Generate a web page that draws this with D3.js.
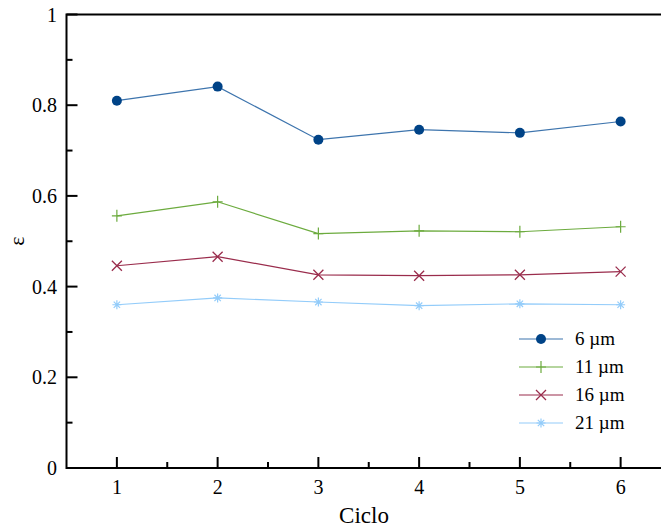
<!DOCTYPE html>
<head>
    <script src="https://d3js.org/d3.v7.min.js"></script>
    <style>
        body { margin: 0; background: #fff; }
        text { font-family: "Liberation Serif", "Times New Roman", serif; fill: #000; }
    </style>
</head>
<body>
    <svg></svg>
</body>

<script>
    // Data
    var ciclos = [1, 2, 3, 4, 5, 6];
    var seriesNames = ["6 \u00b5m", "11 \u00b5m", "16 \u00b5m", "21 \u00b5m"];
    var s6 = [0.810, 0.841, 0.724, 0.746, 0.739, 0.764];
    var s11 = [0.556, 0.587, 0.517, 0.523, 0.521, 0.532];
    var s16 = [0.446, 0.466, 0.426, 0.424, 0.426, 0.433];
    var s21 = [0.360, 0.375, 0.366, 0.358, 0.362, 0.360];
    var yTicks = [0, 0.2, 0.4, 0.6, 0.8, 1];

    var allSeries = [s6, s11, s16, s21];
    var lineColors = ["#3d74ad", "#6cab3e", "#9a2c4c", "#93ccfa"];
    var markColors = ["#004387", "#6cab3e", "#9a2c4c", "#93ccfa"];
    var shapes = ["circle", "plus", "cross", "star"];

    // Variables
    var width = 661, height = 529;
    var plotLeft = 66.5, plotTop = 14.5, plotBottom = 468;

    var svg = d3.select('svg')
        .attr('width', width)
        .attr('height', height);

    var x = d3.scaleLinear().domain([0.5, 6.5]).range([plotLeft, 671]);
    var y = d3.scaleLinear().domain([0, 1]).range([plotBottom, plotTop]);

    // Frame
    svg.append('rect')
        .attr('x', plotLeft).attr('y', plotTop)
        .attr('width', x(6.5) - plotLeft).attr('height', plotBottom - plotTop)
        .attr('fill', 'none').attr('stroke', '#000').attr('stroke-width', 2);

    // Y ticks (inside)
    var g = svg.append('g');
    d3.range(0, 1.0001, 0.1).forEach(function (v, i) {
        var len = i % 2 === 0 ? 11 : 6;
        g.append('line')
            .attr('x1', plotLeft).attr('x2', plotLeft + len)
            .attr('y1', y(v)).attr('y2', y(v))
            .attr('stroke', '#000').attr('stroke-width', 2);
    });
    yTicks.forEach(function (v) {
        g.append('text')
            .attr('x', 57).attr('y', y(v) + 7)
            .attr('text-anchor', 'end')
            .style('font-size', '20px')
            .text(d3.format('~g')(v));
    });

    // X ticks (inside)
    d3.range(1, 6.51, 0.5).forEach(function (v) {
        var len = Number.isInteger(v) ? 11 : 6;
        g.append('line')
            .attr('x1', x(v)).attr('x2', x(v))
            .attr('y1', plotBottom).attr('y2', plotBottom - len)
            .attr('stroke', '#000').attr('stroke-width', 2);
    });
    ciclos.forEach(function (v) {
        g.append('text')
            .attr('x', x(v)).attr('y', 494)
            .attr('text-anchor', 'middle')
            .style('font-size', '20px')
            .text(v);
    });

    // Axis titles
    svg.append('text')
        .attr('x', 364).attr('y', 523)
        .attr('text-anchor', 'middle')
        .style('font-size', '23px')
        .text('Ciclo');
    svg.append('text')
        .attr('transform', 'translate(24,241) rotate(-90)')
        .attr('text-anchor', 'middle')
        .style('font-size', '22px')
        .text('\u03b5');

    // Markers
    function drawMarker(sel, shape, cx, cy, color) {
        if (shape === 'circle') {
            sel.append('circle').attr('cx', cx).attr('cy', cy).attr('r', 5).attr('fill', color);
        } else if (shape === 'plus') {
            sel.append('path')
                .attr('d', 'M' + (cx - 5) + ',' + cy + 'H' + (cx + 5) + 'M' + cx + ',' + (cy - 6) + 'V' + (cy + 6))
                .attr('stroke', color).attr('stroke-width', 1.2).attr('fill', 'none');
        } else if (shape === 'cross') {
            var r = 5;
            sel.append('path')
                .attr('d', 'M' + (cx - r) + ',' + (cy - r) + 'L' + (cx + r) + ',' + (cy + r) +
                    'M' + (cx - r) + ',' + (cy + r) + 'L' + (cx + r) + ',' + (cy - r))
                .attr('stroke', color).attr('stroke-width', 1.3).attr('fill', 'none');
        } else {
            var r2 = 4.5, d = '';
            for (var k = 0; k < 4; k++) {
                var a = k * Math.PI / 4;
                d += 'M' + (cx - r2 * Math.cos(a)) + ',' + (cy - r2 * Math.sin(a)) +
                    'L' + (cx + r2 * Math.cos(a)) + ',' + (cy + r2 * Math.sin(a));
            }
            sel.append('path').attr('d', d)
                .attr('stroke', color).attr('stroke-width', 1.2).attr('fill', 'none');
        }
    }

    var line = d3.line()
        .x(function (d, i) { return x(ciclos[i]); })
        .y(function (d) { return y(d); });

    allSeries.forEach(function (vals, s) {
        var sg = svg.append('g');
        sg.append('path')
            .attr('d', line(vals))
            .attr('fill', 'none')
            .attr('stroke', lineColors[s])
            .attr('stroke-width', 1.2);
        vals.forEach(function (v, i) {
            drawMarker(sg, shapes[s], x(ciclos[i]), y(v), markColors[s]);
        });
    });

    // Legend
    var lg = svg.append('g');
    seriesNames.forEach(function (name, s) {
        var ly = 339 + s * 28;
        lg.append('line')
            .attr('x1', 519).attr('x2', 563)
            .attr('y1', ly).attr('y2', ly)
            .attr('stroke', lineColors[s]).attr('stroke-width', 1.2);
        drawMarker(lg, shapes[s], 541, ly, markColors[s]);
        lg.append('text')
            .attr('x', 575).attr('y', ly + 6)
            .style('font-size', '19px')
            .text(name);
    });
</script>
